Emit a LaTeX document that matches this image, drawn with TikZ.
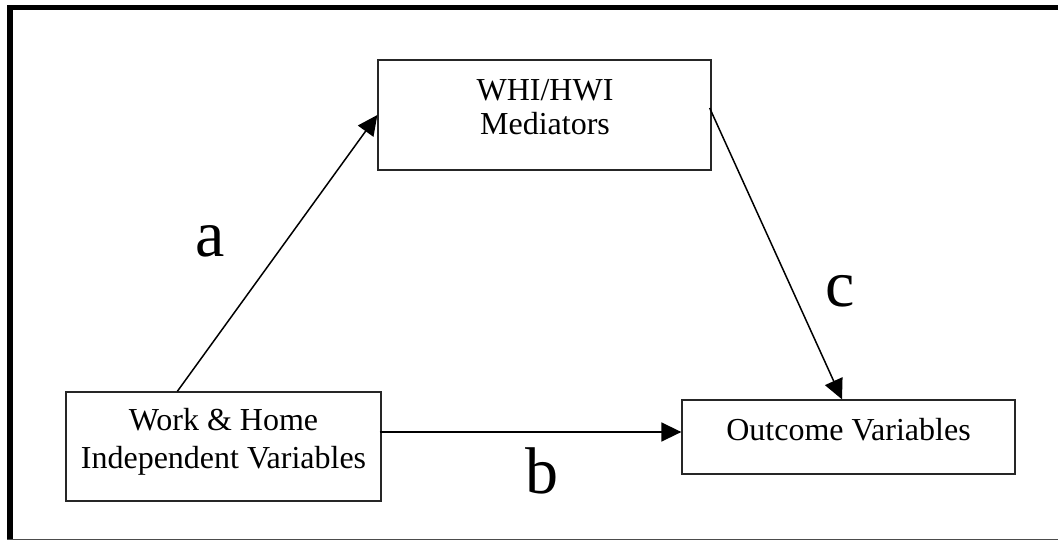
\documentclass[tikz,border=0pt]{standalone}
\usepackage{fontspec}
\setmainfont{Liberation Serif}
\usetikzlibrary{arrows.meta}
\begin{document}
\begin{tikzpicture}[x=1pt,y=-1pt,
  box/.style={draw=black!85,line width=1.3pt,inner sep=0pt,fill=white},
  boxtext/.style={align=center,inner sep=0pt,font=\fontsize{32}{36}\selectfont},
  arr/.style={line width=1.5pt,-{Triangle[length=20pt,width=19pt]}},
  lbl/.style={inner sep=0pt,font=\fontsize{66}{72}\selectfont}]
\useasboundingbox (0,0) rectangle (1058,540);
% frame
\draw[line width=5.6pt,line join=miter] (9.8,540) -- (9.8,7.4) -- (1058,7.4);
\draw[line width=1pt,black!70] (7,539) -- (1058,539);
% boxes
\node[box,minimum width=333pt,minimum height=110pt] (med) at (544.5,115) {};
\node[box,minimum width=315pt,minimum height=109pt] (work) at (223.5,446.5) {};
\node[box,minimum width=333pt,minimum height=74pt] (out) at (848.5,437) {};
% texts
\node[boxtext,font=\fontsize{32}{34}\selectfont] (medtext) at (545,107.3) {WHI/HWI\\Mediators};
\node[boxtext,font=\fontsize{32}{37.5}\selectfont] (worktext) at (223.5,441.8) {Work \& Home\\Independent Variables};
\node[boxtext] (outtext) at (848.5,429.5) {Outcome Variables};
% arrows
\draw[arr] ([xshift=112pt]work.north west) -- (med.west);
\draw[arr] ([xshift=-2pt,yshift=14.5pt]work.east) -- ([yshift=5pt]out.west);
\draw[arr] ([xshift=-2pt,yshift=7pt]med.east) -- ([xshift=-6.5pt]out.north);
% labels
\node[lbl] (la) at (210,241) {a};
\node[lbl] (lb) at (542,471) {b};
\node[lbl] (lc) at (840,291) {c};
\end{tikzpicture}
\end{document}
